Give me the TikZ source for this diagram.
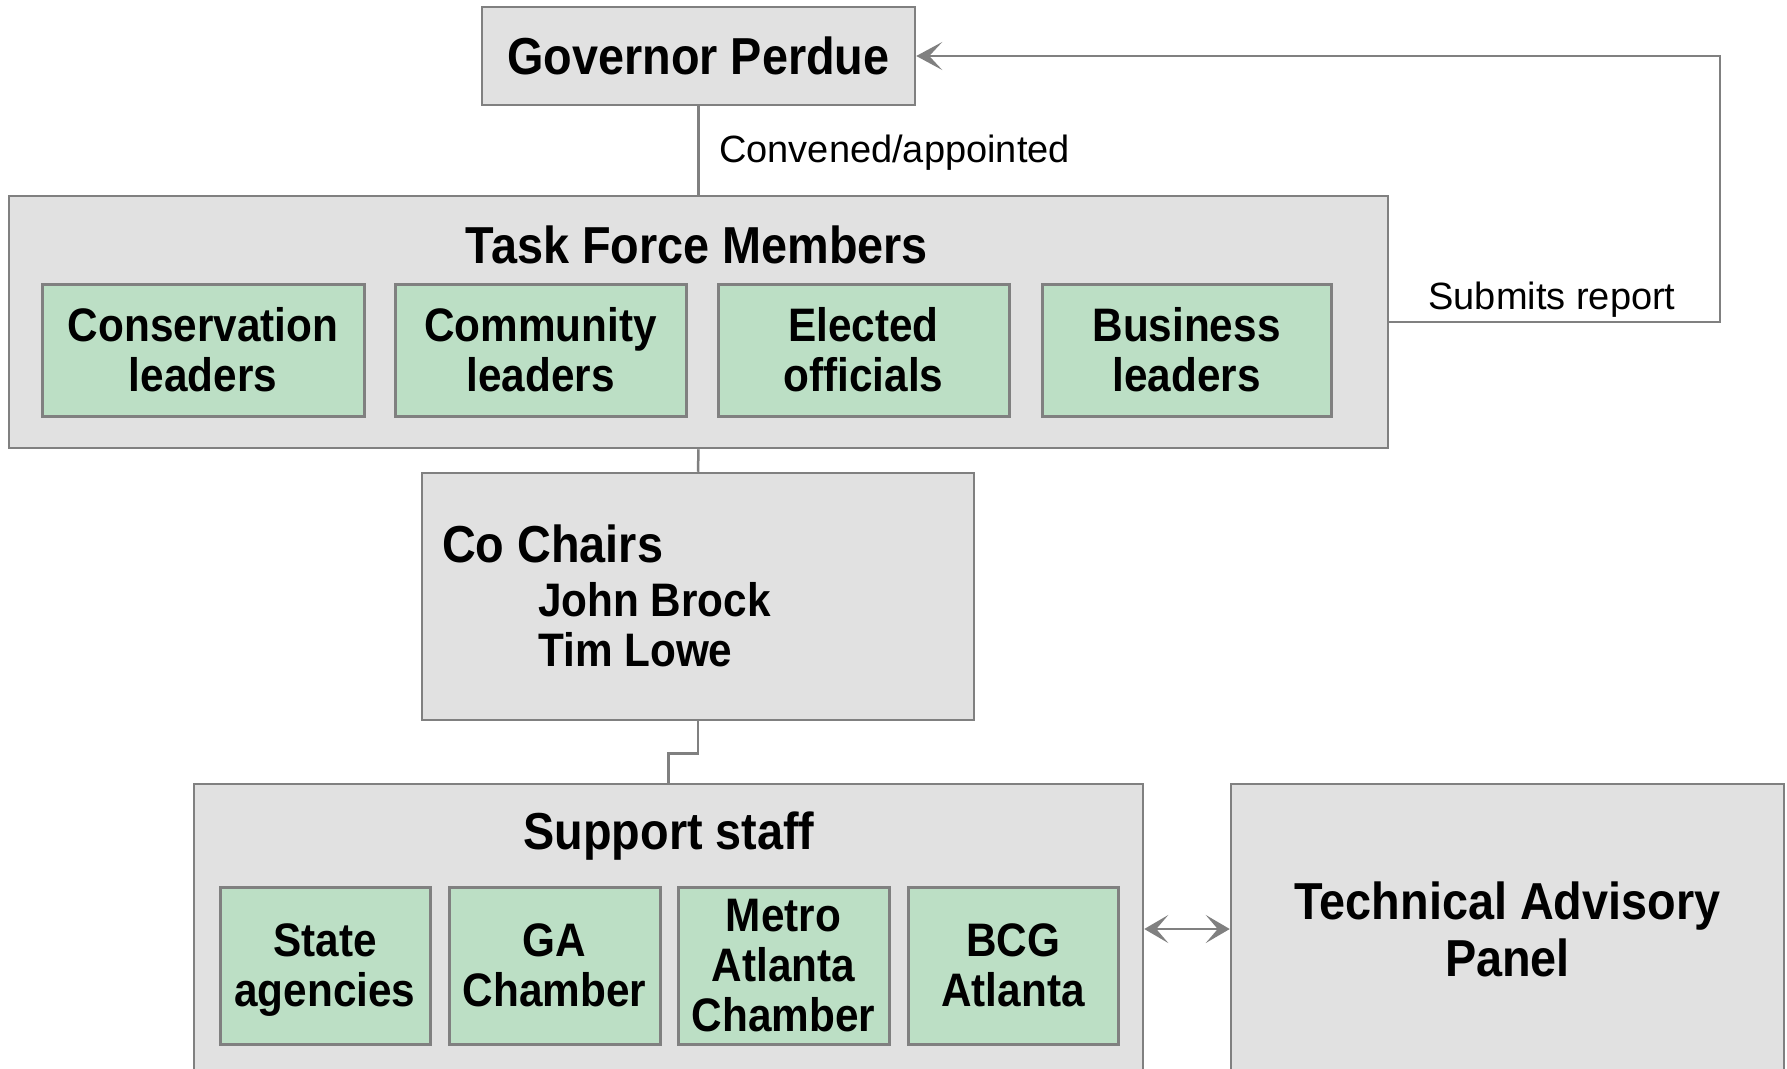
\documentclass[tikz,border=0pt]{standalone}
\usepackage{fontspec}
\setmainfont{Liberation Sans}
\newfontfamily\bn[FakeStretch=0.9]{Liberation Sans}
\usetikzlibrary{arrows.meta}
\definecolor{linegray}{RGB}{128,128,128}
\definecolor{boxgray}{RGB}{225,225,225}
\definecolor{boxgreen}{RGB}{188,223,197}
\begin{document}
\begin{tikzpicture}[x=1pt,y=-1pt,
  graybox/.style={draw=linegray,line width=2.5pt,fill=boxgray,inner sep=0pt,rectangle,align=center},
  greenbox/.style={draw=linegray,line width=3pt,fill=boxgreen,inner sep=0pt,rectangle,align=center,
              font=\bn\bfseries\fontsize{47}{50}\selectfont},
  titletext/.style={font=\bn\bfseries\fontsize{52}{57}\selectfont,inner sep=0pt},
  nametext/.style={font=\bn\bfseries\fontsize{47}{50}\selectfont,inner sep=0pt},
  lbltext/.style={font=\fontsize{38}{44}\selectfont,inner sep=0pt},
  conn/.style={draw=linegray,line width=2.5pt},
  tipa/.style={-{Stealth[length=26pt,width=28pt,inset=13pt]}},
  tipb/.style={{Stealth[length=24pt,width=28pt,inset=12pt]}-{Stealth[length=24pt,width=28pt,inset=12pt]}}]
\useasboundingbox (0,0) rectangle (1787,1068);

% boxes
\node[graybox,titletext,minimum width=433pt,minimum height=98pt] (gov) at (698.5,56) {Governor Perdue};
\node[graybox,minimum width=1379pt,minimum height=252pt] (tf) at (698.5,322) {};
\node[titletext,anchor=base] (tft) at (697,263) {Task Force Members};
\node[greenbox,minimum width=322pt,minimum height=132pt] (cons) at (203,350) {Conservation\\leaders};
\node[greenbox,minimum width=291pt,minimum height=132pt] (comm) at (540.5,350) {Community\\leaders};
\node[greenbox,minimum width=291pt,minimum height=132pt] (elec) at (863.5,350) {Elected\\officials};
\node[greenbox,minimum width=289pt,minimum height=132pt] (bus) at (1186.5,350) {Business\\leaders};

\node[graybox,minimum width=552pt,minimum height=247pt] (cc) at (698,596.5) {};
\node[titletext,anchor=base west] (cct) at (442,562) {Co Chairs};
\node[nametext,anchor=base west] (ccn1) at (538,616) {John Brock};
\node[nametext,anchor=base west] (ccn2) at (538,666) {Tim Lowe};

\node[graybox,minimum width=949pt,minimum height=290pt] (sup) at (668.5,929) {};
\node[titletext,anchor=base] (supt) at (669,849) {Support staff};
\node[greenbox,minimum width=210pt,minimum height=157pt] (state) at (325,965.5) {State\\\raisebox{0pt}[\height][0pt]{agencies}};
\node[greenbox,minimum width=211pt,minimum height=157pt] (ga) at (554.5,965.5) {GA\\Chamber};
\node[greenbox,minimum width=211pt,minimum height=157pt] (metro) at (783.5,965.5) {Metro\\Atlanta\\Chamber};
\node[greenbox,minimum width=210pt,minimum height=157pt] (bcg) at (1013,965.5) {BCG\\Atlanta};

\node[graybox,titletext,minimum width=553pt,minimum height=290pt] (tap) at (1507.5,929) {Technical Advisory\\Panel};

% connectors
\draw[conn] (gov.south) -- (tf.north);
\node[lbltext,anchor=base west] (conv) at (719,162) {Convened/appointed};

\coordinate (loop) at (1720,56);
\draw[conn,tipa] (tf.east) -| (loop) -- (gov.east);
\node[lbltext,anchor=base] (subm) at (1552,309) {Submits report};

\draw[conn] (tf.south) -- (cc.north);
\draw[conn] (cc.south) -- ++(0,32) -| (sup.north);
\draw[conn,tipb] (sup.east) -- (tap.west);
\end{tikzpicture}
\end{document}
